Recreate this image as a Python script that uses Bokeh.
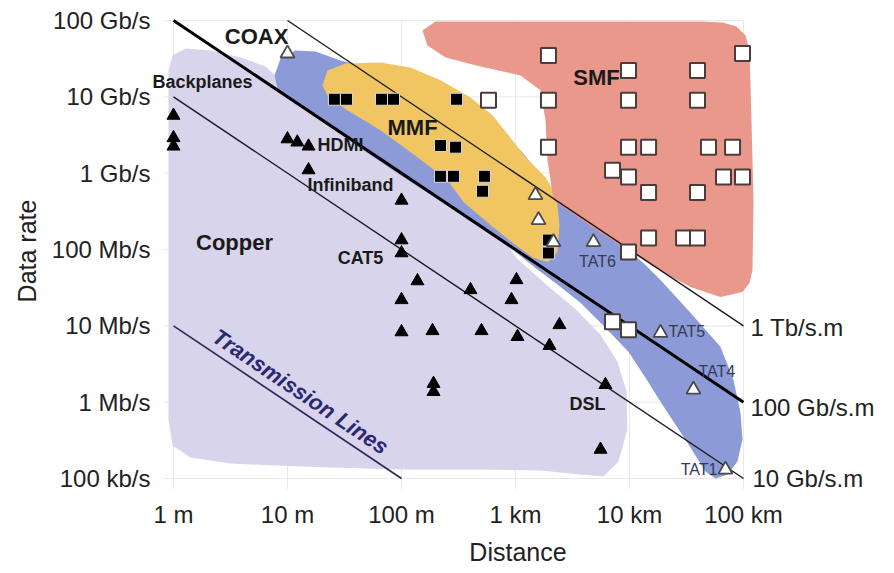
import numpy as np
from bokeh.plotting import figure
from bokeh.models import FixedTicker, Label
from bokeh.embed import file_html
from bokeh.resources import INLINE

# ---------------- axis ticks ----------------
dist_ticks = [1, 10, 100, 1000, 10000, 100000]
dist_tick_labels = ["1 m", "10 m", "100 m", "1 km", "10 km", "100 km"]
rate_ticks = [100000, 1000000, 10000000, 100000000, 1000000000, 10000000000, 100000000000]
rate_tick_labels = ["100 kb/s", "1 Mb/s", "10 Mb/s", "100 Mb/s", "1 Gb/s", "10 Gb/s", "100 Gb/s"]

# ---------------- constant bandwidth x distance lines ----------------
line_products = [1e12, 1e11, 1e10, 1e7]          # b/s * m
line_d_start = [10, 1, 1, 1]                      # m
line_d_end = [1e5, 1e5, 1e5, 100]                 # m
line_names = ["1 Tb/s.m", "100 Gb/s.m", "10 Gb/s.m", "Transmission Lines"]

# ---------------- technology regions (log10 distance [m], log10 rate [b/s]) ----------------
copper_log_d = [-0.044, -0.009, 0.105, 0.325, 0.588, 0.807, 0.939, 1.114, 1.991, 2.868, 3.0, 3.263, 3.526, 3.746,
                3.895, 3.974, 3.982, 3.904, 3.772, 3.570, 3.219, 2.693, 1.991, 1.114, 0.500, 0.149, -0.009, -0.044]
copper_log_r = [10.346, 10.542, 10.634, 10.608, 10.516, 10.399, 10.216, 9.993, 9.105, 8.190, 7.902, 7.549, 7.222,
                6.882, 6.529, 6.137, 5.641, 5.222, 5.026, 5.052, 5.105, 5.118, 5.118, 5.157, 5.196, 5.275, 5.431, 5.771]

coax_log_d = [0.921, 0.886, 0.939, 1.070, 1.246, 1.465, 1.991, 2.605, 3.044, 3.333, 3.746, 3.991, 4.140, 4.272,
              4.535, 4.798, 4.912, 4.974, 4.991, 4.947, 4.860, 4.754, 4.667, 4.518, 4.289, 4.140, 3.991, 3.789,
              3.570, 3.351, 3.175, 3.0, 2.693, 2.342, 1.991, 1.640, 1.377, 1.114]
coax_log_r = [10.059, 10.281, 10.503, 10.608, 10.595, 10.477, 10.281, 9.889, 9.301, 8.778, 8.320, 7.993, 7.797,
              7.601, 7.170, 6.725, 6.294, 5.863, 5.510, 5.222, 5.052, 5.0, 5.092, 5.444, 5.967, 6.320, 6.660, 6.974,
              7.301, 7.562, 7.758, 7.967, 8.281, 8.634, 8.974, 9.327, 9.601, 9.876]

mmf_log_d = [1.307, 1.351, 1.509, 1.816, 2.079, 2.342, 2.605, 2.798, 2.939, 3.088, 3.263, 3.360, 3.386, 3.368,
             3.289, 3.158, 3.0, 2.781, 2.544, 2.404, 2.140, 1.816, 1.526, 1.360]
mmf_log_r = [10.150, 10.346, 10.438, 10.451, 10.386, 10.216, 9.993, 9.758, 9.497, 9.209, 8.948, 8.712, 8.320,
             7.967, 7.837, 7.889, 8.059, 8.320, 8.621, 8.908, 9.209, 9.562, 9.824, 9.993]

smf_log_d = [2.184, 2.298, 4.623, 4.816, 4.939, 5.018, 5.053, 5.070, 5.088, 5.079, 5.053, 4.991, 4.798, 4.535,
             4.272, 4.009, 3.658, 3.333, 3.281, 3.263, 3.219, 3.044, 2.693, 2.386, 2.228]
smf_log_r = [10.869, 10.987, 10.987, 10.974, 10.922, 10.804, 10.608, 9.693, 8.647, 7.732, 7.562, 7.444, 7.379,
             7.510, 7.719, 7.967, 8.307, 8.647, 9.170, 9.693, 10.085, 10.281, 10.399, 10.516, 10.673]

# ---------------- links (distance [m], data rate [b/s]) ----------------
copper_d = [1, 1, 1, 10, 12.2, 15.3, 15.3, 100, 100, 100, 100, 100, 138, 187, 403, 503, 1020, 922, 1042,
            2430, 1987, 6150, 5570, 191, 191]
copper_r = [5.7e9, 2.9e9, 2.25e9, 2.8e9, 2.54e9, 2.25e9, 1.1e9, 4.4e8, 1.33e8, 9.0e7, 2.19e7, 8.3e6, 3.87e7,
            8.6e6, 2.96e7, 8.6e6, 4.0e7, 2.19e7, 7.2e6, 1.03e7, 5.5e6, 1.69e6, 2.4e5, 1.75e6, 1.37e6]

mmf_d = [25.8, 32.9, 66.8, 85.1, 304, 220, 298, 220, 286, 535, 514, 1945, 1945]
mmf_r = [9.3e9, 9.3e9, 9.3e9, 9.3e9, 9.3e9, 2.3e9, 2.19e9, 9.1e8, 9.1e8, 9.1e8, 5.8e8, 1.33e8, 9.0e7]

coax_d = [10, 1497, 1592, 2154, 4830, 18700, 36400, 69500]
coax_r = [3.7e10, 5.16e8, 2.43e8, 1.25e8, 1.25e8, 8.1e6, 1.46e6, 1.31e5]

smf_d = [1946, 9800, 39500, 98000, 580, 1946, 9800, 39500, 1946, 9800, 14700, 49300, 80200, 7100, 9800,
         66800, 98000, 14700, 39500, 14700, 29800, 39500, 9800, 7100, 9800]
smf_r = [3.49e10, 2.22e10, 2.22e10, 3.7e10, 9.0e9, 9.0e9, 9.0e9, 9.0e9, 2.19e9, 2.19e9, 2.19e9, 2.19e9, 2.19e9,
         1.09e9, 8.9e8, 8.9e8, 8.9e8, 5.6e8, 5.6e8, 1.41e8, 1.41e8, 1.41e8, 9.3e7, 1.13e7, 8.9e6]

# ---------------- labels ----------------
big_names = ["COAX", "MMF", "SMF", "Copper"]
big_d = [5.35, 125, 5140, 3.43]
big_r = [6.2e10, 4.0e9, 1.8e10, 1.25e8]

small_names = ["Backplanes", "HDMI", "Infiniband", "CAT5", "DSL"]
small_d = [1.8, 18.3, 15.0, 43.7, 4280]
small_r = [1.55e10, 2.32e9, 7.0e8, 7.7e7, 9.5e5]
small_align = ["center", "left", "left", "center", "center"]

tat_names = ["TAT6", "TAT5", "TAT4", "TAT1"]
tat_d = [5240, 22000, 40300, 59100]
tat_r = [6.9e7, 8.4e6, 2.5e6, 1.31e5]
tat_align = ["center", "left", "left", "right"]

FONT = "Liberation Sans"

p = figure(width=886, height=568, x_axis_type="log", y_axis_type="log",
           x_range=(10 ** -0.193, 10 ** 6.237), y_range=(10 ** 4.856, 10 ** 11.105),
           output_backend="svg", toolbar_location=None,
           min_border_left=151, min_border_right=2, min_border_top=12, min_border_bottom=78)
p.outline_line_color = None
p.background_fill_color = "white"
p.border_fill_color = "white"

# axes
p.xaxis.ticker = FixedTicker(ticks=dist_ticks)
p.yaxis.ticker = FixedTicker(ticks=rate_ticks)
p.xaxis.major_label_overrides = {t: l for t, l in zip(dist_ticks, dist_tick_labels)}
p.yaxis.major_label_overrides = {t: l for t, l in zip(rate_ticks, rate_tick_labels)}
for ax in (p.xaxis, p.yaxis):
    ax.axis_line_color = None
    ax.major_tick_line_color = None
    ax.minor_tick_line_color = None
    ax.major_tick_out = 0
    ax.major_tick_in = 0
    ax.major_label_text_font = FONT
    ax.major_label_text_font_size = "24px"
    ax.major_label_text_color = "#222222"
    ax.axis_label_text_font = FONT
    ax.axis_label_text_font_size = "25px"
    ax.axis_label_text_font_style = "normal"
    ax.axis_label_text_color = "#222222"
p.xaxis.axis_label = "Distance"
p.yaxis.axis_label = "Data rate"
p.xaxis.major_label_standoff = 11
p.yaxis.major_label_standoff = 1
p.xaxis.axis_label_standoff = 7
p.yaxis.axis_label_standoff = 8
p.grid.grid_line_color = None

# faint grid limited to the decade box
grid_color = "#e8e8e8"
p.multi_line([[10 ** -0.088, dist_ticks[-1]] for _ in rate_ticks], [[r, r] for r in rate_ticks],
             line_color=grid_color, line_width=1)
p.multi_line([[d, d] for d in dist_ticks], [[10 ** 4.856, rate_ticks[-1]] for _ in dist_ticks],
             line_color=grid_color, line_width=1)

# regions
def tolin(a):
    return list(10 ** np.array(a))

p.patch(tolin(copper_log_d), tolin(copper_log_r), fill_color="#d8d4ec", line_color=None)
p.patch(tolin(coax_log_d), tolin(coax_log_r), fill_color="#8c9bd7", line_color=None)
p.patch(tolin(mmf_log_d), tolin(mmf_log_r), fill_color="#f1c562", line_color=None)
p.patch(tolin(smf_log_d), tolin(smf_log_r), fill_color="#ea978c", line_color=None)

# constant bandwidth*distance lines
widths = [1.4, 3.0, 1.4, 1.6]
colors = ["#1a1a1a", "#000000", "#1a1a1a", "#2a2858"]
for prod, d0, d1, w, c in zip(line_products, line_d_start, line_d_end, widths, colors):
    ds = [d0, d1]
    p.line(ds, [prod / d for d in ds], line_width=w, line_color=c)

# markers
p.scatter(copper_d, copper_r, marker="triangle", size=13, fill_color="black", line_color="black")
p.scatter(mmf_d, mmf_r, marker="square", size=12, fill_color="black", line_color="#d8d8d8", line_width=1)
p.scatter(smf_d, smf_r, marker="square", size=15, fill_color="white", line_color="#4a3c3c", line_width=2)
p.scatter(coax_d, coax_r, marker="triangle", size=14, fill_color="white", line_color="#4a4a4a", line_width=1.8)

# labels
for n, d, r in zip(big_names, big_d, big_r):
    p.add_layout(Label(x=d, y=r, text=n, text_font=FONT, text_font_size="22px", text_font_style="bold",
                       text_align="center", text_baseline="middle", text_color="#1a1a1a"))
for n, d, r, a in zip(small_names, small_d, small_r, small_align):
    p.add_layout(Label(x=d, y=r, text=n, text_font=FONT, text_font_size="18px", text_font_style="bold",
                       text_align=a, text_baseline="middle", text_color="#1a1a1a"))
for n, d, r, a in zip(tat_names, tat_d, tat_r, tat_align):
    p.add_layout(Label(x=d, y=r, text=n, text_font=FONT, text_font_size="16px",
                       text_align=a, text_baseline="middle", text_color="#333a55"))

# line labels at the right end
for n, prod, d1, dy, dx in zip(line_names[:3], line_products[:3], line_d_end[:3], [0.94, 0.85, 1.0],
                               [1.15, 1.15, 1.2]):
    p.add_layout(Label(x=d1 * dx, y=prod / d1 * dy, text=n, text_font=FONT, text_font_size="24px",
                       text_align="left", text_baseline="middle", text_color="#222222"))

# transmission lines label (rotated along the line)
p.add_layout(Label(x=13.0, y=1.37e6, text=line_names[3], text_font=FONT, text_font_size="22px",
                   text_font_style="bold italic", text_align="center", text_baseline="middle",
                   angle=-0.591, text_color="#2b2874"))

open("out.html", "w").write(file_html(p, INLINE))
